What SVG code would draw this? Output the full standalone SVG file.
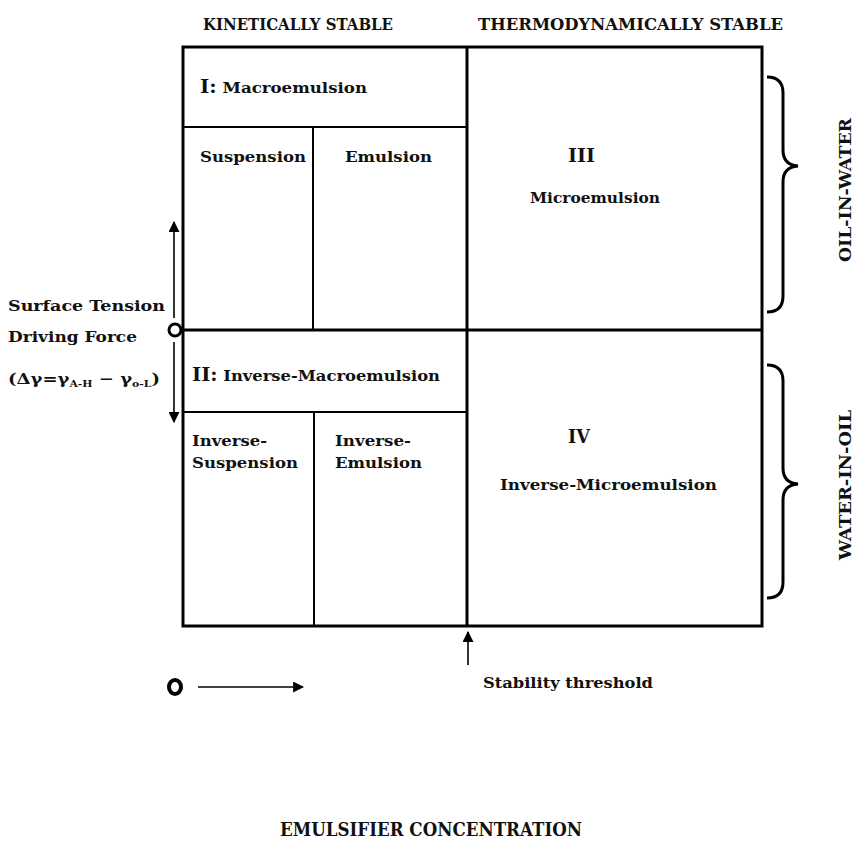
<svg xmlns="http://www.w3.org/2000/svg" width="857" height="849" viewBox="0 0 857 849">
<defs>
<style>
text{font-family:"DejaVu Serif","Liberation Serif",serif;font-weight:bold;fill:#111;font-size:15px}
.h{font-size:17px}
.r{font-size:18px}
.sub{font-size:9px}
.big{font-size:18px}
.side{font-size:16px}
.thick{stroke:#000;stroke-width:3;fill:none}
.thin{stroke:#000;stroke-width:2;fill:none}
.ar{stroke:#000;stroke-width:1.6;fill:none}
</style>
<marker id="ah" viewBox="0 0 10 10" refX="9" refY="5" markerWidth="11" markerHeight="11" markerUnits="userSpaceOnUse" orient="auto">
<path d="M0,0 L10,5 L0,10 Z" fill="#000"/>
</marker>
</defs>
<rect width="857" height="849" fill="#fff"/>

<g id="headers">
<text class="h" x="203" y="30" textLength="190" lengthAdjust="spacingAndGlyphs">KINETICALLY STABLE</text>
<text class="h" x="478" y="30" textLength="305" lengthAdjust="spacingAndGlyphs">THERMODYNAMICALLY STABLE</text>
</g>

<g id="grid">
<rect x="183" y="47" width="579" height="579" class="thick"/>
<line x1="467" y1="47" x2="467" y2="626" class="thick"/>
<line x1="183" y1="330" x2="762" y2="330" class="thick"/>
<line x1="183" y1="127" x2="467" y2="127" class="thin"/>
<line x1="183" y1="412" x2="467" y2="412" class="thin"/>
<line x1="313" y1="127" x2="313" y2="330" class="thin"/>
<line x1="314" y1="412" x2="314" y2="626" class="thin"/>
</g>

<g id="region-I">
<text x="200" y="93" textLength="167" lengthAdjust="spacingAndGlyphs"><tspan class="r">I:</tspan> Macroemulsion</text>
</g>
<g id="suspension"><text x="200" y="162" textLength="106" lengthAdjust="spacingAndGlyphs">Suspension</text></g>
<g id="emulsion"><text x="345" y="162" textLength="87" lengthAdjust="spacingAndGlyphs">Emulsion</text></g>
<g id="region-III">
<text class="r" x="568" y="162" textLength="27" lengthAdjust="spacingAndGlyphs">III</text>
<text x="595" y="203" text-anchor="middle" textLength="130" lengthAdjust="spacingAndGlyphs">Microemulsion</text>
</g>
<g id="region-II">
<text x="192" y="381" textLength="248" lengthAdjust="spacingAndGlyphs"><tspan class="r">II:</tspan> Inverse-Macroemulsion</text>
</g>
<g id="inv-suspension"><text x="192" y="446" textLength="75" lengthAdjust="spacingAndGlyphs">Inverse-</text><text x="192" y="468" textLength="106" lengthAdjust="spacingAndGlyphs">Suspension</text></g>
<g id="inv-emulsion"><text x="335" y="446" textLength="76" lengthAdjust="spacingAndGlyphs">Inverse-</text><text x="335" y="468" textLength="87" lengthAdjust="spacingAndGlyphs">Emulsion</text></g>
<g id="region-IV">
<text class="r" x="568" y="443" textLength="22" lengthAdjust="spacingAndGlyphs">IV</text>
<text x="500" y="490" textLength="217" lengthAdjust="spacingAndGlyphs">Inverse-Microemulsion</text>
</g>

<g id="side-labels">
<text x="8" y="311" textLength="157" lengthAdjust="spacingAndGlyphs">Surface Tension</text>
<text x="8" y="342" textLength="129" lengthAdjust="spacingAndGlyphs">Driving Force</text>
<text x="8" y="384" textLength="152" lengthAdjust="spacingAndGlyphs">(Δγ=γ<tspan class="sub" dy="3">A-H</tspan><tspan dy="-3"> − γ</tspan><tspan class="sub" dy="3">o-L</tspan><tspan dy="-3">)</tspan></text>
<text class="side" transform="translate(851,190) rotate(-90)" text-anchor="middle" textLength="144" lengthAdjust="spacingAndGlyphs">OIL-IN-WATER</text>
<text class="side" transform="translate(851,485) rotate(-90)" text-anchor="middle" textLength="150" lengthAdjust="spacingAndGlyphs">WATER-IN-OIL</text>
<text x="483" y="688" textLength="170" lengthAdjust="spacingAndGlyphs">Stability threshold</text>
<text class="big" x="280" y="836" textLength="302" lengthAdjust="spacingAndGlyphs">EMULSIFIER CONCENTRATION</text>
</g>

<g id="connectors">
<circle cx="175" cy="330" r="6" fill="#fff" stroke="#000" stroke-width="3"/>
<line x1="174" y1="318" x2="174" y2="222" class="ar" marker-end="url(#ah)"/>
<line x1="174" y1="342" x2="174" y2="422" class="ar" marker-end="url(#ah)"/>
<line x1="468" y1="665" x2="468" y2="632" class="ar" marker-end="url(#ah)"/>
<ellipse cx="175" cy="687" rx="6" ry="7" fill="none" stroke="#000" stroke-width="4"/>
<line x1="198" y1="687" x2="303" y2="687" class="ar" marker-end="url(#ah)"/>
<path class="thick" d="M767,77 Q783,77 783,93 L783,150 Q783,165 798,166 Q783,167 783,182 L783,296 Q783,312 767,312"/>
<path class="thick" d="M767,365 Q783,365 783,381 L783,468 Q783,483 798,484 Q783,485 783,500 L783,582 Q783,598 767,598"/>
</g>
</svg>
